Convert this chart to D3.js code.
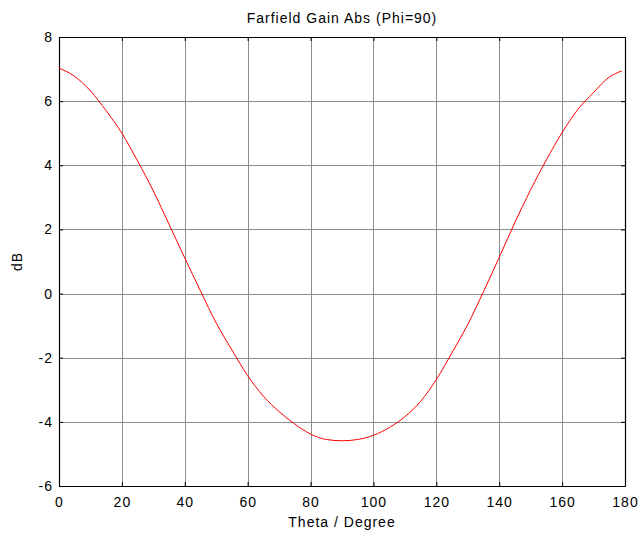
<!DOCTYPE html>
<html>
<head>
<meta charset="utf-8">
<script src="https://d3js.org/d3.v7.min.js"></script>
<style>
  body { margin: 0; background: #fff; }
  svg { font-family: Arial, "Liberation Sans", sans-serif; }
  svg text { letter-spacing: 1px; }
  .grid line { stroke: #8c8c8c; stroke-width: 1px; shape-rendering: crispEdges; }
  .tick text { font-size: 14px; fill: #000; }
  .curve { fill: none; stroke: #ff0000; stroke-width: 1px; }
</style>
</head>
<body>
<script>
// values
var theta = [0, 5, 10, 15, 20, 25, 30, 35, 40, 45, 50, 55, 60, 65, 70, 75, 80, 85, 90,
             95, 100, 105, 110, 115, 120, 125, 130, 135, 140, 145, 150, 155, 160, 165, 170, 175, 179];
var gainDb = [7.03, 6.77, 6.32, 5.70, 5.00, 4.13, 3.20, 2.16, 1.11, 0.08, -0.92, -1.76, -2.56, -3.20, -3.68, -4.07, -4.38, -4.55, -4.59,
              -4.55, -4.42, -4.18, -3.84, -3.36, -2.68, -1.84, -0.96, 0.06, 1.13, 2.22, 3.24, 4.17, 5.02, 5.74, 6.27, 6.75, 6.94];
var xTicks = [0, 20, 40, 60, 80, 100, 120, 140, 160, 180];
var yTicks = [-6, -4, -2, 0, 2, 4, 6, 8];

function draw_chart() {
  "use strict";
  var W = 642, H = 534;
  var left = 59, right = 625, top = 37, bottom = 486;

  var svg = d3.select("body").append("svg")
      .attr("width", W)
      .attr("height", H);

  var x_scale = d3.scaleLinear().domain([0, 180]).range([left, right]);
  var y_scale = d3.scaleLinear().domain([-6, 8]).range([bottom, top]);

  // plain hyphen minus, like the reference
  var fmt = function(d) { return String(d); };

  // grid
  var grid = svg.append("g").attr("class", "grid");
  grid.selectAll(".vx").data(xTicks.slice(1, -1)).enter().append("line")
      .attr("x1", function(d) { return Math.round(x_scale(d)) + 0.5; })
      .attr("x2", function(d) { return Math.round(x_scale(d)) + 0.5; })
      .attr("y1", top).attr("y2", bottom);
  grid.selectAll(".hy").data(yTicks.slice(1, -1)).enter().append("line")
      .attr("y1", function(d) { return Math.round(y_scale(d)) + 0.5; })
      .attr("y2", function(d) { return Math.round(y_scale(d)) + 0.5; })
      .attr("x1", left).attr("x2", right);

  // axes, ticks pointing inward (matlab style)
  var x_axis = d3.axisBottom(x_scale).tickValues(xTicks).tickSizeInner(-4).tickSizeOuter(0).tickPadding(11).tickFormat(fmt);
  var x_top = d3.axisTop(x_scale).tickValues(xTicks).tickSizeInner(-4).tickSizeOuter(0).tickFormat("");
  var y_axis = d3.axisLeft(y_scale).tickValues(yTicks).tickSizeInner(-4).tickSizeOuter(0).tickPadding(6).tickFormat(fmt);
  var y_right = d3.axisRight(y_scale).tickValues(yTicks).tickSizeInner(-4).tickSizeOuter(0).tickFormat("");

  [
    [x_axis, "translate(0," + bottom + ")"],
    [x_top, "translate(0," + top + ")"],
    [y_axis, "translate(" + left + ",0)"],
    [y_right, "translate(" + right + ",0)"]
  ].forEach(function(a) {
    var g = svg.append("g").attr("transform", a[1]).call(a[0]);
    g.attr("font-family", null).attr("font-size", null);
    g.selectAll("line, path").attr("stroke", "#000");
    g.select(".domain").attr("stroke-width", 1.2);
  });

  // curve
  var valueline = d3.line()
      .x(function(d, i) { return x_scale(theta[i]); })
      .y(function(d) { return y_scale(d); })
      .curve(d3.curveMonotoneX);

  svg.append("path")
      .attr("class", "curve")
      .attr("d", valueline(gainDb));

  // labels
  svg.append("text")
      .attr("x", (left + right) / 2).attr("y", 23)
      .attr("text-anchor", "middle")
      .attr("font-size", 14)
      .text("Farfield Gain Abs (Phi=90)");

  svg.append("text")
      .attr("x", (left + right) / 2).attr("y", 527)
      .attr("text-anchor", "middle")
      .attr("font-size", 14)
      .text("Theta / Degree");

  svg.append("text")
      .attr("transform", "translate(22," + ((top + bottom) / 2) + ") rotate(-90)")
      .attr("text-anchor", "middle")
      .attr("font-size", 14)
      .text("dB");
}

draw_chart();
</script>
</body>
</html>
